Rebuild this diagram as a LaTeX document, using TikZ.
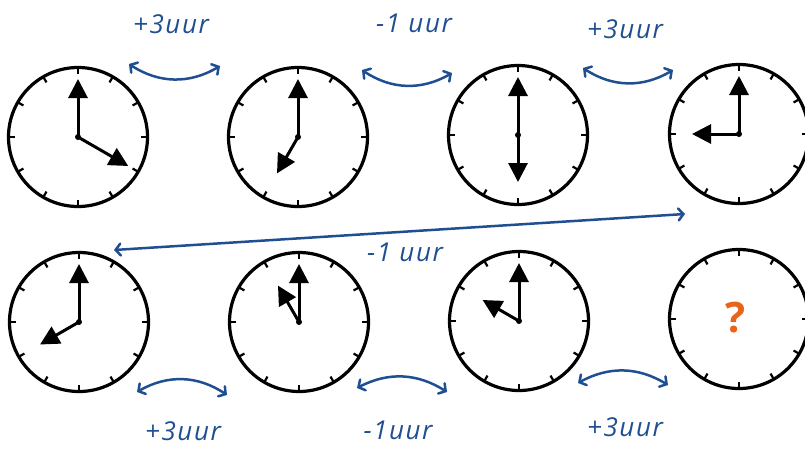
\documentclass[tikz,border=0pt]{standalone}
\usepackage{fontspec}
\setmainfont{Open Sans}
\newfontfamily\lblfont[LetterSpace=6]{Open Sans}
\usetikzlibrary{arrows.meta}
\definecolor{arcblue}{HTML}{1F4E91}
\definecolor{qorange}{HTML}{E8641B}
\tikzset{
  clockface/.style={circle,draw=black,line width=3.2pt,minimum size=139pt,inner sep=0pt},
  clocktick/.style={line width=2.2pt,black},
  hand/.style={line width=3pt,black,-{Triangle[length=19pt,width=19pt]}},
  swap/.style={arcblue,line width=2.5pt,line cap=round,{Straight Barb[length=5pt,width=12pt,line cap=round]}-{Straight Barb[length=5pt,width=12pt,line cap=round]}},
  lbl/.style={text=arcblue,font=\lblfont\itshape\fontsize{26}{26}\selectfont,inner sep=0pt},
}
\newcommand\myclock[5]{%
  \node[clockface] (#1) at (#2,#3) {};
  \foreach \a in {0,30,...,330}{\draw[clocktick] (#1.center) ++(\a:63) -- ++(\a:7);}
  \draw[hand] (#1.center) -- ++(-90:58);
  \draw[hand] (#1.center) -- ++({30*#4-90}:#5);
  \fill (#1.center) circle (3);
}
\begin{document}
\begin{tikzpicture}[x=1pt,y=-1pt]
\useasboundingbox (0,0) rectangle (805,448);
\clip (0,0) rectangle (805,448);
% clocks
\myclock{c1}{78}{137}{4}{58}
\myclock{c2}{298}{137}{7}{42}
\myclock{c3}{518}{135}{6}{47}
\myclock{c4}{739}{134}{9}{47}
\myclock{c5}{79}{322}{8}{45}
\myclock{c6}{299}{322}{11}{42}
\myclock{c7}{519}{321}{10}{42}
\node[clockface] (c8) at (739,319) {};
\foreach \a in {0,30,...,330}{\draw[clocktick] (c8.center) ++(\a:63) -- ++(\a:7);}
\node[text=qorange,font=\bfseries\fontsize{42}{42}\selectfont,inner sep=0pt] (q) at (736,318) {?};
% arc end points
\coordinate (a1l) at (129,64);  \coordinate (a1r) at (220,66);
\coordinate (a2l) at (362,70);  \coordinate (a2r) at (452,73);
\coordinate (a3l) at (583,68);  \coordinate (a3r) at (673,70);
\coordinate (b1l) at (137,392); \coordinate (b1r) at (227,395);
\coordinate (b2l) at (357,388); \coordinate (b2r) at (447,392);
\coordinate (b3l) at (578,383); \coordinate (b3r) at (668,385);
\coordinate (ll) at (114,250);  \coordinate (lr) at (685,214);
\draw[swap] (a1l) to[bend right=32] (a1r);
\draw[swap] (a2l) to[bend right=32] (a2r);
\draw[swap] (a3l) to[bend right=32] (a3r);
\draw[swap] (b1l) to[bend left=32] (b1r);
\draw[swap] (b2l) to[bend left=30] (b2r);
\draw[swap] (b3l) to[bend left=30] (b3r);
\draw[swap] (ll) -- (lr);
% labels
\node[lbl] (t1) at (171,24) {+3uur};
\node[lbl] (t2) at (414,23) {-1 uur};
\node[lbl] (t3) at (625,29) {+3uur};
\node[lbl] (t4) at (405,252) {-1 uur};
\node[lbl] (t5) at (183,431) {+3uur};
\node[lbl] (t6) at (398,430) {-1uur};
\node[lbl] (t7) at (625,427) {+3uur};
\end{tikzpicture}
\end{document}
